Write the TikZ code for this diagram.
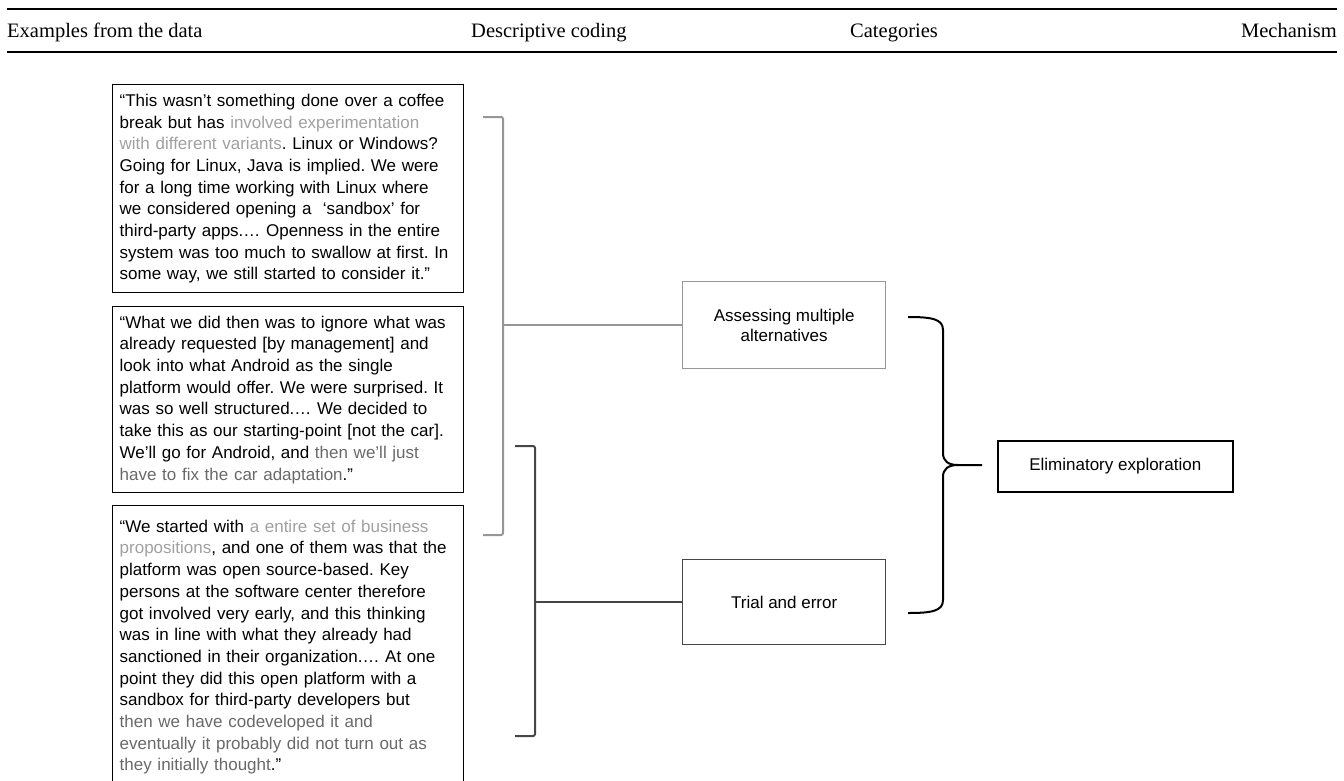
\documentclass[tikz,border=0pt]{standalone}
\usepackage{fontspec}
\setmainfont{Liberation Serif}
\newfontfamily\quotefont{Liberation Sans}
\definecolor{lgray}{RGB}{160,160,160}
\definecolor{dgray}{RGB}{105,105,105}
\definecolor{brgray}{RGB}{150,150,150}
\definecolor{brdark}{RGB}{70,70,70}
\begin{document}
\frenchspacing
\begin{tikzpicture}[x=1pt,y=-1pt,
  head/.style={font=\fontsize{20.5}{25}\selectfont, inner sep=0pt},
  rule/.style={line width=1.3pt},
  quote/.style={draw=black, line width=1.4pt, anchor=north west, align=left,
    text width=337pt, inner xsep=7pt, inner ysep=0pt,
    font=\fontsize{17}{21.7}\selectfont\quotefont},
  catbox/.style={line width=1.4pt, minimum width=203pt, anchor=north west,
    align=center, font=\fontsize{17}{20}\selectfont\quotefont},
  mechbox/.style={draw=black, line width=1.6pt, minimum width=235pt, minimum height=51pt,
    anchor=north west, font=\fontsize{17}{20}\selectfont\quotefont},
  lightbr/.style={draw=brgray, line width=2pt, rounded corners=2pt},
  darkbr/.style={draw=brdark, line width=2pt, rounded corners=2pt},
  brace/.style={draw=black, line width=2pt}]
\useasboundingbox (0,0) rectangle (1344,780);

% table header
\draw[rule] (7,9) -- (1337,9);
\draw[rule] (7,52) -- (1337,52);
\node[head, anchor=base west] (h1) at (7,37) {Examples from the data};
\node[head, anchor=base west] (h2) at (471,37) {Descriptive coding};
\node[head, anchor=base west] (h3) at (850,37) {Categories};
\node[head, anchor=base east] (h4) at (1337,37) {Mechanism};

% quotations
\node[quote, minimum height=208pt] (q1) at (112,84) {%
“This wasn’t something done over a coffee\\
break but has \textcolor{lgray}{involved experimentation}\\
\textcolor{lgray}{with different variants}. Linux or Windows?\\
Going for Linux, Java is implied. We were\\
for a long time working with Linux where\\
we considered opening a\ \ ‘sandbox’ for\\
third-party apps.… Openness in the entire\\
system was too much to swallow at first. In\\
some way, we still started to consider it.”};

\node[quote, minimum height=186pt] (q2) at (112,306) {%
“What we did then was to ignore what was\\
already requested [by management] and\\
look into what Android as the single\\
platform would offer. We were surprised. It\\
was so well structured.… We decided to\\
take this as our starting-point [not the car].\\
We’ll go for Android, and \textcolor{dgray}{then we’ll just}\\
\textcolor{dgray}{have to fix the car adaptation}.”};

\node[quote, minimum height=283pt] (q3) at (112,505) {%
“We started with \textcolor{lgray}{a entire set of business}\\
\textcolor{lgray}{propositions}, and one of them was that the\\
platform was open source-based. Key\\
persons at the software center therefore\\
got involved very early, and this thinking\\
was in line with what they already had\\
sanctioned in their organization.… At one\\
point they did this open platform with a\\
sandbox for third-party developers but\\
\textcolor{dgray}{then we have codeveloped it and}\\
\textcolor{dgray}{eventually it probably did not turn out as}\\
\textcolor{dgray}{they initially thought}.”};

% categories
\node[catbox, draw=brgray, minimum height=87pt] (assess) at (682,281)
  {Assessing multiple\\alternatives};
\node[catbox, draw=brdark, minimum height=85pt] (trial) at (682,559)
  {Trial and error};

% mechanism
\node[mechbox] (elim) at (997,440) {Eliminatory exploration};

% bracket grouping the quotations into the first category
\coordinate (g1) at (483,117);
\coordinate (g2) at (483,535);
\draw[lightbr] (g1) -- (503,117) -- (503,535) -- (g2);
\draw[draw=brgray, line width=2pt] (assess.west) -- (assess.west -| 503,0);

% bracket grouping the quotations into the second category
\coordinate (d1) at (515,446);
\coordinate (d2) at (515,736);
\draw[darkbr] (d1) -- (535,446) -- (535,736) -- (d2);
\draw[draw=brdark, line width=2pt] (trial.west) -- (trial.west -| 535,0);

% curly brace joining both categories into the mechanism
\coordinate (bt) at (908,317);
\coordinate (bb) at (908,613);
\coordinate (bm) at (958,465);
\coordinate (btip) at (982,465);
\draw[brace] (bt) .. controls (932,317) and (943,319) .. (943,330) -- (943,453)
  .. controls (943,461) and (948,465) .. (bm) -- (btip);
\draw[brace] (bm) .. controls (948,465) and (943,469) .. (943,477) -- (943,600)
  .. controls (943,611) and (932,613) .. (bb);
\end{tikzpicture}
\end{document}
